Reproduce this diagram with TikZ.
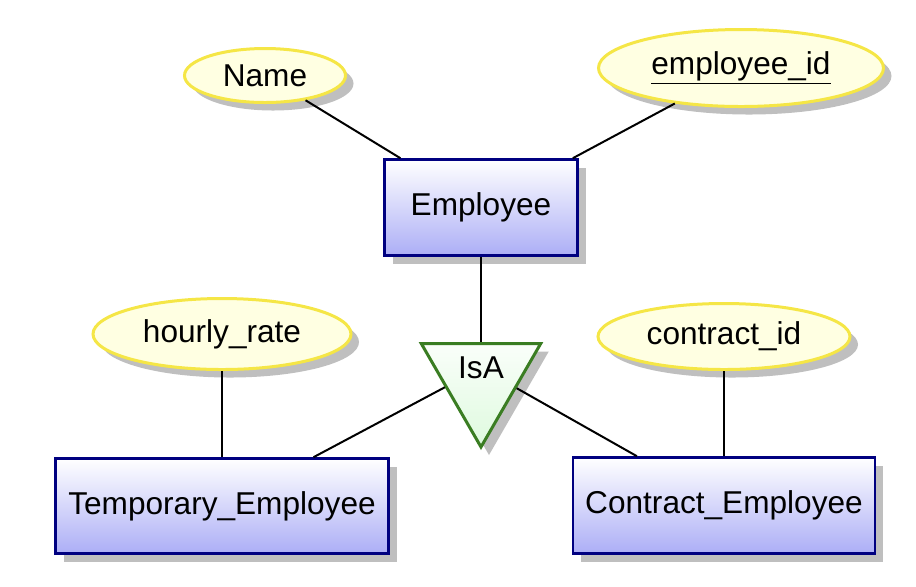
\documentclass[tikz,border=0pt]{standalone}
\usepackage{fontspec}
\setmainfont{Liberation Sans}
\usetikzlibrary{shapes.geometric,shadows}

\definecolor{entline}{RGB}{0,0,128}
\definecolor{entbot}{RGB}{172,174,246}
\definecolor{attline}{RGB}{245,230,70}
\definecolor{attfill}{RGB}{255,255,226}
\definecolor{isaline}{RGB}{58,125,34}
\definecolor{isabot}{RGB}{222,250,222}

\tikzset{
	shadowed/.style={drop shadow={shadow xshift=4pt, shadow yshift=-4pt, fill=black!25, opacity=1}},
	entity/.style={rectangle, draw=entline, line width=1.3pt, top color=white, bottom color=entbot, shadowed},
	attribute/.style={ellipse, draw=attline, line width=1.5pt, fill=attfill, inner sep=0pt, shadowed},
	isabox/.style={regular polygon, regular polygon sides=3, shape border rotate=180, draw=isaline, line width=1.5pt, top color=white!85!isabot, bottom color=isabot, inner sep=0pt, minimum size=69pt, shadowed},
	link/.style={line width=1pt}
}

\begin{document}
\begin{tikzpicture}[x=0.5pt, y=-0.5pt, font=\fontsize{15.8}{18}\selectfont]
		%%%%% START %%%%%
		\useasboundingbox (0, 0) rectangle (916, 586);
		
		\node[entity, minimum width=96.5pt, minimum height=48pt] (employee) at (481, 207.5) {Employee};
		\node[entity, minimum width=166.5pt, minimum height=47.5pt] (temp) at (222, 506) {Temporary\_Employee};
		\node[entity, minimum width=151pt, minimum height=48pt] (contract) at (724, 505.5) {Contract\_Employee};
		
		\node[attribute, minimum width=80.5pt, minimum height=27pt] (name) at (265, 75.5) {Name};
		\node[attribute, minimum width=142.5pt, minimum height=38.5pt] (empid) at (741, 68) {\underline{employee\_id}};
		\node[attribute, minimum width=129pt, minimum height=35.5pt] (hrate) at (222, 334) {hourly\_rate};
		\node[attribute, minimum width=126pt, minimum height=33pt] (cid) at (724, 336.5) {contract\_id};
		
		\node[isabox] (isa) at (481, 378) {};
		\node (isatext) at (481, 368) {IsA};
		
		\draw[link] (name) -- (employee);
		\draw[link] (empid) -- (employee);
		\draw[link] (employee) -- (isa);
		\draw[link] (hrate) -- (temp);
		\draw[link] (cid) -- (contract);
		\draw[link, shorten <=20.5pt] (isatext.center) -- (temp);
		\draw[link, shorten <=20.5pt] (isatext.center) -- (contract);
		
		%%%%% END %%%%%
	\end{tikzpicture}
\end{document}
